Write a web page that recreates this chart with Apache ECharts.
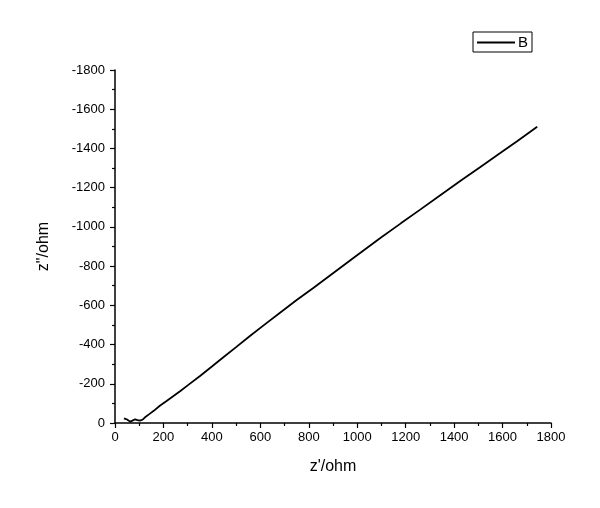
<!DOCTYPE html>
<html>
<head>
<meta charset="utf-8">
<script src="https://cdn.jsdelivr.net/npm/echarts@6/dist/echarts.min.js"></script>
<style>
html,body{margin:0;padding:0;background:#fff;}
#chart{width:600px;height:508px;}
</style>
</head>
<body>
<div id="chart"></div>
<script>
// Z' (ohm)
const zReal = [37, 50, 62, 72, 83, 93, 103, 115, 124, 140, 160, 185, 213, 240, 270, 300, 351, 400, 450, 500, 557, 620, 680, 750, 820, 900, 980, 1094, 1180, 1260, 1340, 1431, 1510, 1589, 1660, 1743];
// Z'' (ohm)
const zImag = [-24, -18, -7, -12, -19, -15, -12, -18, -29, -44, -62, -88, -112, -136, -163, -192, -240, -288, -338, -387, -444, -504, -561, -627, -690, -764, -838, -942, -1018, -1088, -1159, -1239, -1307, -1375, -1437, -1511];
const xTicks = [0, 200, 400, 600, 800, 1000, 1200, 1400, 1600, 1800];
const yTicks = [0, -200, -400, -600, -800, -1000, -1200, -1400, -1600, -1800];
const seriesName = 'B';

const data = zReal.map((x, i) => [x, zImag[i]]);
const font = '"Liberation Sans", Arial, sans-serif';
const plain = v => String(v);

const chart = echarts.init(document.getElementById('chart'));
chart.setOption({
  backgroundColor: '#fff',
  animation: false,
  grid: { left: 115, right: 49, top: 70, bottom: 85 },
  legend: {
    data: [{ name: seriesName, icon: 'rect' }],
    left: 473,
    top: 32,
    orient: 'vertical',
    borderColor: '#000',
    borderWidth: 1,
    borderRadius: 0,
    padding: [3, 4, 2, 4],
    itemWidth: 38,
    itemHeight: 2,
    itemGap: 5,
    textStyle: { color: '#000', fontFamily: font, fontSize: 15, lineHeight: 14, padding: [0, 0, 0, -2] }
  },
  xAxis: {
    type: 'value',
    min: xTicks[0],
    max: xTicks[xTicks.length - 1],
    interval: 200,
    name: "z'/ohm",
    nameLocation: 'middle',
    nameGap: 36,
    nameTextStyle: { color: '#000', fontFamily: font, fontSize: 16 },
    axisLine: { show: true, onZero: false, lineStyle: { color: '#000', width: 1.5 } },
    axisTick: { show: true, inside: false, length: 5, lineStyle: { color: '#000', width: 1.2 } },
    minorTick: { show: true, splitNumber: 2, length: 3, lineStyle: { color: '#000', width: 1.2 } },
    axisLabel: { color: '#000', fontFamily: font, fontSize: 13, margin: 8, formatter: plain },
    splitLine: { show: false }
  },
  yAxis: {
    type: 'value',
    min: yTicks[yTicks.length - 1],
    max: yTicks[0],
    interval: 200,
    inverse: true,
    name: 'z"/ohm',
    nameLocation: 'middle',
    nameGap: 63,
    nameTextStyle: { color: '#000', fontFamily: font, fontSize: 16 },
    axisLine: { show: true, onZero: false, lineStyle: { color: '#000', width: 1.5 } },
    axisTick: { show: true, inside: false, length: 5, lineStyle: { color: '#000', width: 1.2 } },
    minorTick: { show: true, splitNumber: 2, length: 3, lineStyle: { color: '#000', width: 1.2 } },
    axisLabel: { color: '#000', fontFamily: font, fontSize: 13, margin: 10, formatter: plain },
    splitLine: { show: false }
  },
  series: [{
    name: seriesName,
    type: 'line',
    data: data,
    symbol: 'none',
    smooth: false,
    lineStyle: { color: '#000', width: 1.8 },
    itemStyle: { color: '#000' }
  }]
});
</script>
</body>
</html>
